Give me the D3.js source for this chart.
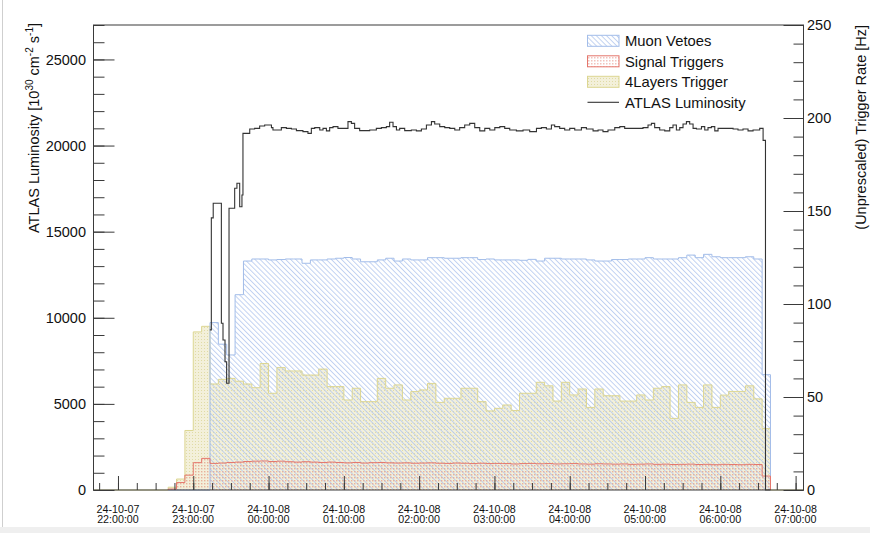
<!DOCTYPE html>
<html>
<head>
<meta charset="utf-8">
<script src="https://cdn.jsdelivr.net/npm/d3@7"></script>
<style>
  body { margin: 0; background: #fff; }
  svg { display: block; font-family: "Liberation Sans", Arial, Helvetica, sans-serif; }
</style>
</head>
<body>
<div id="chart"></div>
<script>
// Time axis in minutes after 2024-10-07 22:00:00.
const xTickMinutes = [0, 60, 120, 180, 240, 300, 360, 420, 480, 540];
const xTickDates = ["24-10-07", "24-10-07", "24-10-08", "24-10-08", "24-10-08",
                    "24-10-08", "24-10-08", "24-10-08", "24-10-08", "24-10-08"];
const xTickTimes = ["22:00:00", "23:00:00", "00:00:00", "01:00:00", "02:00:00",
                    "03:00:00", "04:00:00", "05:00:00", "06:00:00", "07:00:00"];
const lumiTicks = [0, 5000, 10000, 15000, 20000, 25000];
const rateTicks = [0, 50, 100, 150, 200, 250];

// Trigger rates [Hz], 400 s bins starting at 22:40.
const binStart = 40;
const binWidth = 400 / 60;
const muonVetoes = [
  0, 0, 0, 0, 0,
  90, 78.4, 72.6, 105, 123.1,
  124.2, 124.2, 123.7, 123.9, 124.2,
  124.2, 121.9, 123.7, 123.7, 124.2,
  124.6, 125, 124.2, 122.7, 122.7,
  123.7, 124.6, 123.1, 124.2, 123.7,
  123.7, 124.9, 124.9, 124.6, 124.6,
  124.9, 124.9, 123.9, 124.2, 123.7,
  123.7, 123.7, 123.5, 124, 123.1,
  124.6, 124.6, 124.2, 124.2, 124.2,
  123.7, 123.1, 123.1, 123.9, 123.9,
  124.2, 124.2, 124.9, 124.2, 124.2,
  124.2, 124.9, 126.3, 124.9, 126.7,
  125.4, 124.9, 124.9, 124.9, 125.4,
  124.2, 62
];
const signalTriggers = [
  0.5, 4, 8, 14.7, 17,
  14.3, 14.5, 14.8, 15, 15.3,
  15.5, 15.6, 15.3, 15.5, 15.2,
  15.0, 15.2, 15.0, 14.8, 15.0,
  14.8, 14.6, 14.8, 14.5, 14.7,
  14.8, 14.6, 14.5, 14.6, 14.4,
  14.5, 14.6, 14.4, 14.3, 14.5,
  14.4, 14.2, 14.4, 14.2, 14.3,
  14.2, 14.0, 14.2, 14.3, 14.1,
  14.2, 14.0, 14.1, 14.2, 14.0,
  13.9, 14.1, 14.0, 13.9, 14.0,
  13.8, 13.9, 14.0, 13.8, 13.9,
  13.7, 13.8, 13.9, 13.7, 13.8,
  13.6, 13.8, 13.7, 13.6, 13.8,
  13.7, 7.5
];
const fourLayers = [
  1.5, 5.9, 32, 85, 88,
  57, 59.5, 60, 58.5, 57,
  55, 68, 52, 65.8, 64,
  64, 61.8, 61.8, 65, 55.6,
  55.6, 48.4, 54.7, 47.5, 47.5,
  60, 54.7, 56.5, 48.4, 52.9,
  53.8, 57.3, 47.1, 49.3, 49.3,
  54.7, 54.7, 47.5, 42.5, 43.9,
  45.7, 42.7, 52, 52, 57.9,
  56, 47.8, 57.9, 51.1, 54.3,
  44.4, 54.3, 50.7, 50.7, 47.8,
  47.8, 51.1, 48.4, 54.7, 55.6,
  38.5, 56.5, 47.1, 44.4, 56.5,
  44.4, 51, 53, 53, 56,
  49, 33
];

// ATLAS luminosity [1e30 cm-2 s-1]: step start (minutes) and value.
const lumStart = [
  73.2, 74.4, 75.9, 82.4, 83.7, 85.3, 86.6, 88.5, 93.0,
  94.8, 97.0, 98.8, 99.6, 105.0, 108.9, 112.9, 116.9, 122.3, 123.5,
  130.2, 134.2, 138.2, 142.2, 147.4, 151.4, 154.1, 156.8, 160.8, 163.4,
  166.1, 168.7, 171.4, 175.3, 183.3, 186.0, 188.6, 192.6, 200.6, 205.9,
  209.9, 213.9, 216.5, 219.2, 221.9, 224.5, 228.5, 233.8, 237.8, 241.8,
  245.8, 249.8, 252.4, 256.4, 260.4, 264.4, 268.4, 272.3, 276.3, 280.3,
  284.3, 288.3, 292.3, 296.3, 300.3, 304.3, 308.2, 312.2, 317.5, 322.8,
  328.1, 333.5, 337.4, 341.4, 345.4, 348.0, 352.0, 356.0, 360.0, 364.0,
  369.3, 373.3, 378.6, 382.6, 386.5, 390.5, 395.9, 399.9, 403.8, 418.4,
  422.4, 425.1, 427.7, 431.7, 435.7, 439.7, 442.3, 445.0, 447.7, 450.3,
  453.0, 455.6, 458.3, 461.0, 465.0, 467.6, 470.2, 472.9, 475.6, 478.2,
  490.2, 494.1, 498.1, 502.1, 506.1, 511.4, 514.1, 516.0
];
const lumValue = [
  9300, 15800, 16650, 9680, 8710, 7450, 6200, 16360, 17520,
  17810, 16450, 17130, 20710, 20960, 21000, 21135, 21195, 21040, 20900,
  21040, 21000, 20960, 20865, 20810, 20710, 21000, 21040, 20900, 21000,
  20850, 21040, 21100, 21000, 21390, 21290, 21000, 20865, 20900, 21000,
  21040, 21100, 21350, 21100, 20900, 21000, 20865, 20900, 20850, 20960,
  21195, 21390, 21250, 21100, 21040, 21000, 20900, 21040, 21195, 21290,
  21040, 20850, 21000, 20900, 21040, 21100, 21000, 20900, 20850, 20900,
  20810, 21000, 21040, 20960, 21195, 21100, 21000, 20900, 21000, 20900,
  21040, 20960, 20850, 20900, 20810, 20900, 21040, 21100, 21000, 21040,
  21195, 21290, 21040, 20900, 20850, 21040, 21195, 20900, 21040, 21250,
  21390, 21250, 21000, 20960, 21100, 20900, 21040, 21100, 20850, 21000,
  20960, 20900, 20960, 20850, 20900, 21000, 20300, 0
];
const lumEnd = 520;

const legendLabels = ["Muon Vetoes", "Signal Triggers", "4Layers Trigger", "ATLAS Luminosity"];

// Figure
const width = 870;
const height = 533;
const frame = { left: 93.5, right: 803.5, top: 25, bottom: 490 };

const svg = d3.create("svg")
    .attr("viewBox", [0, 0, width, height])
    .attr("width", width)
    .attr("height", height);

// Window edge of the original screenshot
svg.append("rect").attr("x", 0).attr("y", 527).attr("width", width).attr("height", 6).attr("fill", "#efefef");
svg.append("line").attr("x1", 2.5).attr("x2", 2.5).attr("y1", 0).attr("y2", 527).attr("stroke", "#cfcfcf");

// Scales
const x = d3.scaleLinear().domain([-19.5, 546.3]).range([frame.left, frame.right]);
const yLumi = d3.scaleLinear().domain([0, 27000]).range([frame.bottom, frame.top]);
const yRate = d3.scaleLinear().domain([0, 250]).range([frame.bottom, frame.top]);

// Fill patterns
const defs = svg.append("defs");
const hatch = defs.append("pattern").attr("id", "hatchBlue")
    .attr("patternUnits", "userSpaceOnUse").attr("width", 3.6).attr("height", 3.6)
    .attr("patternTransform", "rotate(-45)");
hatch.append("line").attr("x1", 0.5).attr("x2", 0.5).attr("y1", 0).attr("y2", 3.6)
    .attr("stroke", "#b3c7ee").attr("stroke-width", 0.8);

const dotsRed = defs.append("pattern").attr("id", "dotsRed")
    .attr("patternUnits", "userSpaceOnUse").attr("width", 3).attr("height", 3);
dotsRed.append("rect").attr("width", 1.5).attr("height", 1.5).attr("fill", "#ea9a8f").attr("fill-opacity", 0.6);

const dotsYellow = defs.append("pattern").attr("id", "dotsYellow")
    .attr("patternUnits", "userSpaceOnUse").attr("width", 3).attr("height", 3);
dotsYellow.append("rect").attr("width", 3).attr("height", 3).attr("fill", "#efeacb").attr("fill-opacity", 0.7);
dotsYellow.append("rect").attr("width", 1).attr("height", 1).attr("fill", "#dcd699").attr("fill-opacity", 0.8);

// Histogram helpers
function stepPoints(starts, values, end) {
  const pts = [];
  values.forEach((v, i) => {
    const t1 = i + 1 < starts.length ? starts[i + 1] : end;
    pts.push([starts[i], v], [t1, v]);
  });
  return pts;
}
function histPoints(starts, values, end) {
  return [[starts[0], 0]].concat(stepPoints(starts, values, end), [[end, 0]]);
}
const binStarts = muonVetoes.map((_, i) => binStart + i * binWidth);
const binEnd = binStart + muonVetoes.length * binWidth;
const rateLine = d3.line().x(d => x(d[0])).y(d => yRate(d[1]));
const lumiLine = d3.line().x(d => x(d[0])).y(d => yLumi(d[1]));

const series = [
  { values: fourLayers, fill: "url(#dotsYellow)" },
  { values: muonVetoes, fill: "url(#hatchBlue)" },
  { values: signalTriggers, fill: "url(#dotsRed)" },
];

// Fills
series.forEach(s => {
  svg.append("path")
      .attr("d", rateLine(histPoints(binStarts, s.values, binEnd)) + "Z")
      .attr("fill", s.fill)
      .attr("stroke", "none");
});

// Outlines (4Layers runs along zero over the whole axis)
svg.append("path")
    .attr("d", rateLine([[x.domain()[0], 0]].concat(histPoints(binStarts, fourLayers, binEnd), [[x.domain()[1], 0]])))
    .attr("fill", "none").attr("stroke", "#dcd692").attr("stroke-width", 1);
svg.append("path")
    .attr("d", rateLine(histPoints(binStarts, muonVetoes, binEnd)))
    .attr("fill", "none").attr("stroke", "#a3bde9").attr("stroke-width", 1);
svg.append("path")
    .attr("d", rateLine(histPoints(binStarts, signalTriggers, binEnd)))
    .attr("fill", "none").attr("stroke", "#e4766c").attr("stroke-width", 1);

// Luminosity
svg.append("path")
    .attr("d", lumiLine(stepPoints(lumStart, lumValue, lumEnd)))
    .attr("fill", "none").attr("stroke", "#333").attr("stroke-width", 1.1);

// Frame
svg.append("rect")
    .attr("x", frame.left).attr("y", frame.top)
    .attr("width", frame.right - frame.left).attr("height", frame.bottom - frame.top)
    .attr("fill", "none").attr("stroke", "#3a3a3a").attr("stroke-width", 1);

// Axes
function styleAxis(g) {
  g.select(".domain").remove();
  g.attr("font-family", null).attr("font-size", 14.5).attr("color", "#3a3a3a");
  g.selectAll("text").attr("fill", "#111");
}

// Left axis (luminosity)
svg.append("g").attr("transform", `translate(${frame.left},0)`)
    .call(d3.axisLeft(yLumi).tickValues(d3.range(0, 27001, 1000)).tickSize(-11).tickFormat(""))
    .call(styleAxis);
svg.append("g").attr("transform", `translate(${frame.left},0)`)
    .call(d3.axisLeft(yLumi).tickValues(lumiTicks).tickSizeInner(-21).tickSizeOuter(0).tickPadding(7.5).tickFormat(d3.format("d")))
    .call(styleAxis);

// Right axis (trigger rate)
svg.append("g").attr("transform", `translate(${frame.right},0)`)
    .call(d3.axisRight(yRate).tickValues(d3.range(0, 251, 10)).tickSize(-10).tickFormat(""))
    .call(styleAxis);
svg.append("g").attr("transform", `translate(${frame.right},0)`)
    .call(d3.axisRight(yRate).tickValues(rateTicks).tickSizeInner(-20).tickSizeOuter(0).tickPadding(3.5).tickFormat(d3.format("d")))
    .call(styleAxis);

// Bottom axis (time)
svg.append("g").attr("transform", `translate(0,${frame.bottom})`)
    .call(d3.axisBottom(x).tickValues(d3.range(-15, 547, 15)).tickSize(-7).tickFormat(""))
    .call(styleAxis);
svg.append("g").attr("transform", `translate(0,${frame.bottom})`)
    .call(d3.axisBottom(x).tickValues(xTickMinutes).tickSize(-14).tickFormat(""))
    .call(styleAxis);

const xLabels = svg.append("g").attr("font-size", 10.7).attr("fill", "#111").attr("text-anchor", "middle");
xTickMinutes.forEach((m, i) => {
  const t = xLabels.append("text");
  t.append("tspan").attr("x", x(m)).attr("y", 512.5).text(xTickDates[i]);
  t.append("tspan").attr("x", x(m)).attr("y", 523).text(xTickTimes[i]);
});

// Axis titles
const leftTitle = svg.append("text")
    .attr("transform", `translate(39,${frame.top - 2}) rotate(-90)`)
    .attr("text-anchor", "end").attr("font-size", 14.5).attr("fill", "#111");
leftTitle.append("tspan").text("ATLAS Luminosity [10");
leftTitle.append("tspan").attr("dy", -6).attr("font-size", 10).text("30");
leftTitle.append("tspan").attr("dy", 6).text(" cm");
leftTitle.append("tspan").attr("dy", -6).attr("font-size", 10).text("-2");
leftTitle.append("tspan").attr("dy", 6).text(" s");
leftTitle.append("tspan").attr("dy", -6).attr("font-size", 10).text("-1");
leftTitle.append("tspan").attr("dy", 6).text("]");

svg.append("text")
    .attr("transform", `translate(866,${frame.top}) rotate(-90)`)
    .attr("text-anchor", "end").attr("font-size", 14.5).attr("fill", "#111")
    .text("(Unprescaled) Trigger Rate [Hz]");

// Legend
const legend = svg.append("g").attr("font-size", 14.8).attr("fill", "#111");
const swatches = [
  { fill: "url(#hatchBlue)", stroke: "#a3bde9" },
  { fill: "url(#dotsRed)", stroke: "#e4766c" },
  { fill: "url(#dotsYellow)", stroke: "#dcd692" },
];
legendLabels.forEach((label, i) => {
  const cy = 40.8 + 20.5 * i;
  if (i < 3) {
    legend.append("rect")
        .attr("x", 587.5).attr("y", cy - 5.5).attr("width", 31.5).attr("height", 11)
        .attr("fill", swatches[i].fill).attr("stroke", swatches[i].stroke);
  } else {
    legend.append("line")
        .attr("x1", 587.5).attr("x2", 619).attr("y1", cy).attr("y2", cy)
        .attr("stroke", "#333").attr("stroke-width", 1.1);
  }
  legend.append("text").attr("x", 625).attr("y", cy + 5.3).text(label);
});

document.getElementById("chart").appendChild(svg.node());
</script>
</body>
</html>
